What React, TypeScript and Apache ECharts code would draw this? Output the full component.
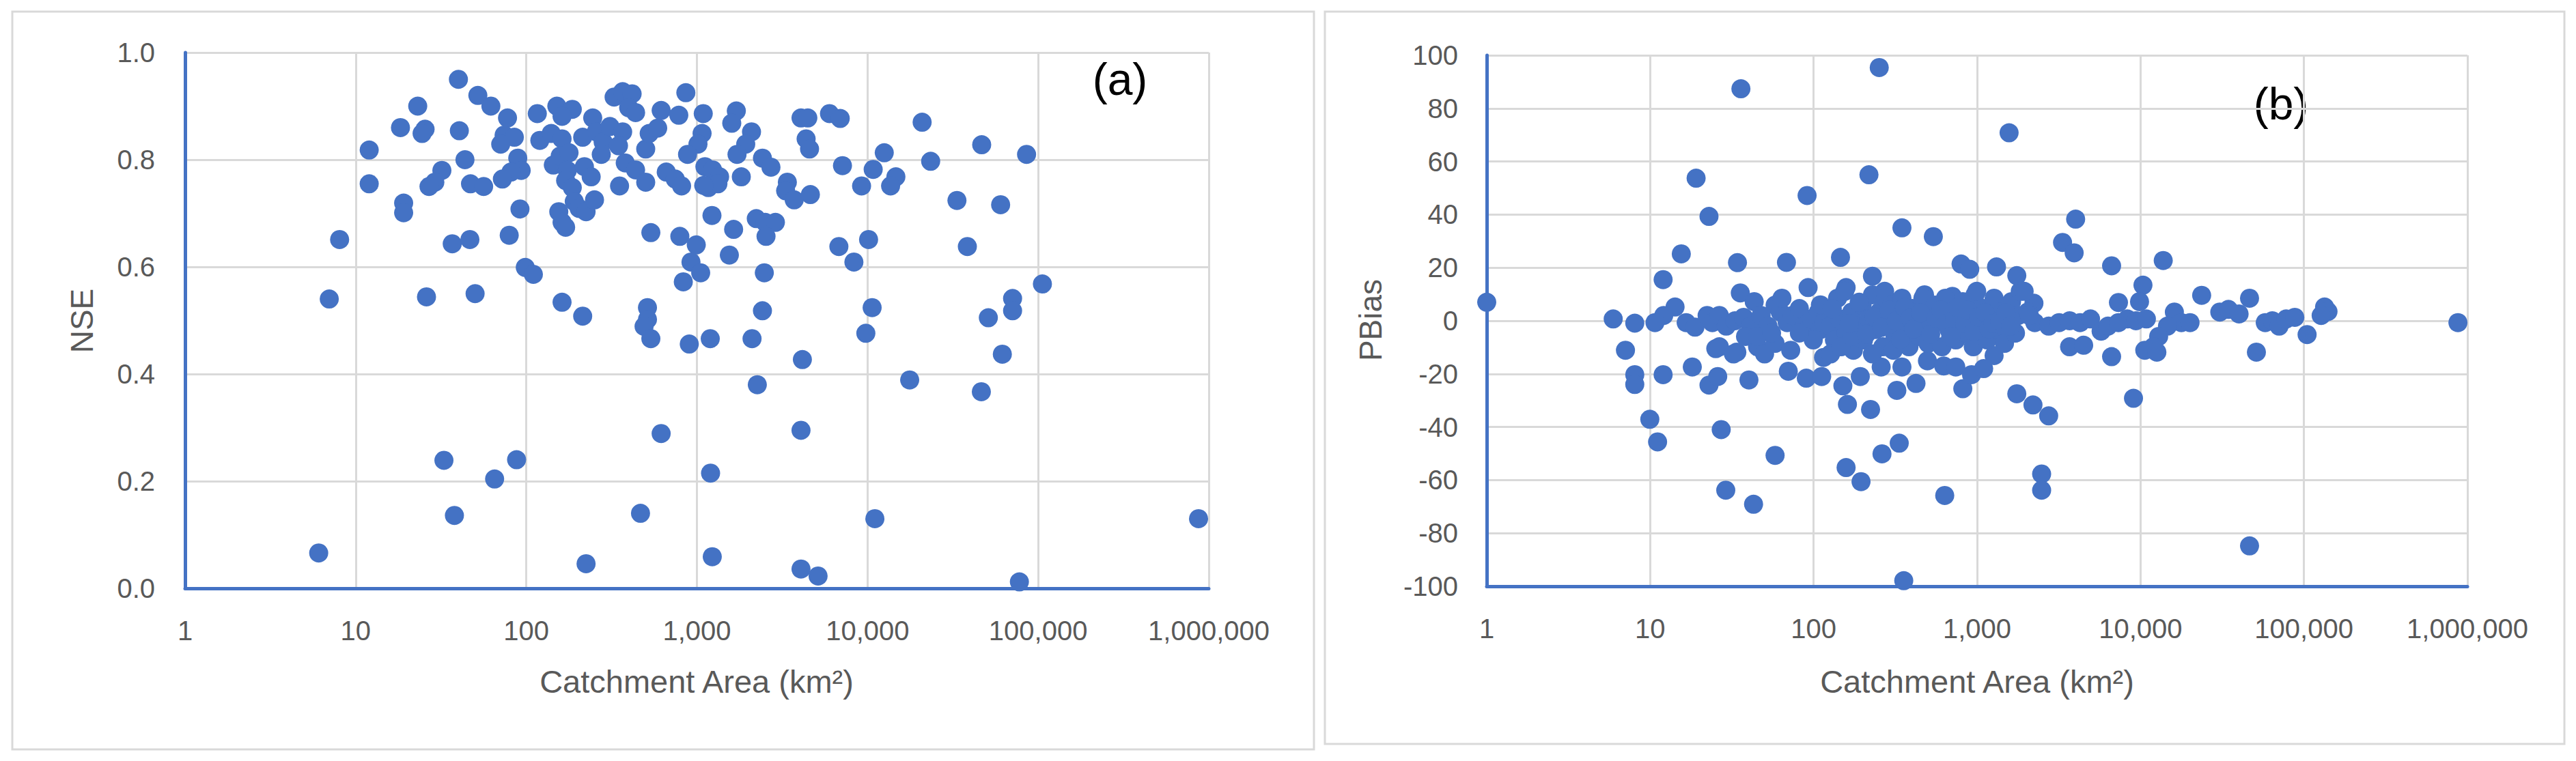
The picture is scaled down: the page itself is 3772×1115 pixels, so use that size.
import React, { useEffect, useRef } from "react";
import * as echarts from "echarts";

// ---------- Panel (a): NSE vs catchment area ----------
const areaA = [
  40, 52, 62, 23.1, 18.3, 25.5, 24.5, 40.5, 12.0, 77.6, 74.1, 85.1, 70.8, 43.7, 32.0, 29.1, 26.9, 12.0, 47.1, 56.2,
  89.1, 93.3, 81.3, 72.4, 19.1, 19.1, 91.8, 8.05, 36.8, 46.7, 79.4, 98.6, 110, 7.0, 26.0, 50.1, 162, 214, 116, 151,
  186, 162, 120, 140, 162, 144, 158, 178, 174, 170, 186, 191, 204, 224, 155, 162, 170, 219, 240, 251,
  214, 245, 257, 282, 275, 309, 327, 367, 417, 398, 437, 367, 347, 380, 352, 437, 501, 501, 525, 589,
  617, 783, 861, 1089, 1072, 1014, 881, 661, 746, 813, 1114, 1167, 1225, 537, 794, 991, 923, 1052, 832, 513,
  513, 490, 537, 902, 1197, 617, 32.9, 87.7, 65.2, 37.9, 467, 6.07, 224, 1202, 1230,
  1702, 1600, 2089, 1932, 1718, 1236, 1358, 1327, 1096, 1820, 2421, 2716, 1641, 2228, 2512, 2884, 2541, 1549, 2483, 3388,
  3311, 3715, 4624, 4074, 4467, 5984, 6918, 4365, 4571, 7129, 9226, 10790, 12530, 14660, 13650, 20890, 23440, 46670, 85510, 33420,
  60260, 38460, 6792, 8318, 10140, 105900, 70800, 70800, 51050, 61660, 10640, 9772, 17660, 46450, 2421, 2104, 4150, 2259, 4074, 11040,
  871000, 4074, 5129, 77620,
];
const nseA = [
  0.95, 0.92, 0.9, 0.9, 0.86, 0.857, 0.849, 0.854, 0.818, 0.878, 0.846, 0.842, 0.829, 0.8, 0.78, 0.758, 0.75, 0.755, 0.755, 0.75,
  0.803, 0.78, 0.777, 0.764, 0.719, 0.701, 0.708, 0.651, 0.643, 0.651, 0.659, 0.599, 0.586, 0.54, 0.544, 0.55, 0.534, 0.508, 0.886, 0.9,
  0.894, 0.881, 0.836, 0.849, 0.839, 0.79, 0.807, 0.813, 0.78, 0.761, 0.748, 0.722, 0.709, 0.703, 0.703, 0.683, 0.674, 0.787, 0.768, 0.725,
  0.842, 0.878, 0.852, 0.833, 0.81, 0.862, 0.917, 0.927, 0.923, 0.897, 0.888, 0.852, 0.826, 0.794, 0.751, 0.781, 0.758, 0.82, 0.849, 0.859,
  0.892, 0.883, 0.925, 0.886, 0.849, 0.829, 0.81, 0.777, 0.764, 0.751, 0.787, 0.748, 0.696, 0.664, 0.657, 0.641, 0.609, 0.589, 0.572, 0.524,
  0.502, 0.489, 0.466, 0.456, 0.466, 0.289, 0.239, 0.24, 0.204, 0.136, 0.14, 0.066, 0.046, 0.215, 0.059,
  0.891, 0.868, 0.852, 0.829, 0.81, 0.781, 0.768, 0.755, 0.752, 0.768, 0.803, 0.786, 0.67, 0.69, 0.683, 0.683, 0.657, 0.622, 0.589, 0.758,
  0.742, 0.725, 0.735, 0.878, 0.878, 0.886, 0.877, 0.839, 0.82, 0.789, 0.751, 0.782, 0.813, 0.768, 0.751, 0.87, 0.797, 0.828, 0.81, 0.724,
  0.716, 0.638, 0.638, 0.609, 0.651, 0.568, 0.541, 0.518, 0.505, 0.437, 0.524, 0.476, 0.389, 0.367, 0.518, 0.466, 0.427, 0.38, 0.295, 0.13,
  0.13, 0.036, 0.023, 0.012,
];

// ---------- Panel (b): PBias vs catchment area ----------
const areaB = [
  1.0, 35.9, 252, 1570, 19.1, 218, 91.2, 22.9, 347, 540, 15.5, 34.2, 68.2, 146, 798, 902, 1315, 12.0, 229, 35.6,
  92.5, 158, 272, 477, 706, 971, 1750, 14.2, 12.1, 10.7, 5.94, 8.05, 16.6, 18.8, 7.06, 8.05, 8.05, 12.0, 18.1, 22.9,
  25.9, 40.2, 25.2, 33.9, 9.95, 11.1, 27.2, 58.1, 29.0, 42.9, 158, 195, 262, 334, 634, 356, 70.0, 90.2, 112, 151,
  161, 223, 193, 259, 347, 323, 423, 497, 625, 741, 818, 925, 1097, 1271, 1750,
  22.3, 24.0, 26.5, 29.2, 33.0, 37.3, 41.2, 43.3, 47.7, 52.6, 58.1, 62.5, 64.0, 68.9, 74.1, 81.8, 88.1, 97.1, 107, 110,
  99.5, 115, 26.5, 32.3, 45.4, 50.1, 58.1, 72.4, 38.3, 45.4, 55.3, 81.8, 121, 127, 134, 140, 144, 155, 158, 171,
  175, 184, 198, 202, 218, 229, 240, 252, 265, 275, 285, 300, 315, 330, 347, 365, 383, 402, 423, 444,
  466, 489, 501, 115, 127, 147, 171, 229, 307, 526, 553, 581, 610, 640, 673, 706, 741, 778, 818, 859,
  902, 948, 995, 1045, 1097, 1153, 1211, 1271, 1336, 1403, 1472, 1545, 1625, 1706, 1791, 1836,
  4009, 3334, 3926, 6653, 13770, 2228, 7328, 10350, 9863, 23660, 46450, 30550, 34510, 40090, 133700, 140300, 127400, 57940, 63970, 70470,
  77800, 87900, 104500, 51170, 875000, 16110, 17780, 20090, 14620, 12910, 11990, 10620, 12590, 6653, 9057, 2198, 2742, 2483, 2483, 46450,
  2254, 2742, 3177, 3681, 4266, 4943, 5741, 6324, 7328, 8299, 9376, 10860, 3681, 4487, 2042, 1941, 1718, 2089,
  110, 130, 165, 190, 210, 235, 260, 290, 320, 340, 360, 390, 410, 450, 520, 560, 600, 650, 690, 730,
  760, 840, 880, 960, 1020, 1120, 1180, 1250, 1380, 1500, 1600,
];
const pbiasB = [
  7, 87.4, 95.4, 70.8, 53.7, 55.0, 47.2, 39.3, 35.0, 31.7, 25.2, 21.9, 22.0, 23.9, 21.4, 19.4, 20.3, 15.5, 16.8, 10.5,
  12.5, 12.5, 11.1, 9.8, 9.2, 9.8, 17.0, 5.2, 2.0, -0.7, 0.7, -0.9, -0.7, -2.4, -11.1, -20.3, -24.0, -20.3, -17.4, -24.2,
  -21.0, -22.3, -10.5, -11.8, -37.1, -45.6, -41.0, -50.7, -63.8, -69.1, -55.3, -60.6, -50.1, -46.1, -65.8, -97.9, -19.0, -21.6, -21.0, -24.5,
  -31.5, -33.4, -21.0, -17.4, -17.4, -26.2, -23.6, -15.1, -17.0, -17.4, -25.6, -20.3, -18.0, -13.1, -27.5,
  2.0, -0.7, 2.0, -2.0, 0, 1.3, -2.0, 7.2, 2.0, -2.0, 5.9, 3.3, 8.5, -0.7, 2.0, 4.6, -2.0, 0.7, 3.3, -3.3,
  -7.2, -0.7, -9.8, -12.5, -9.8, -12.5, -8.5, -11.1, -5.9, -5.9, -4.6, -4.6, 3.3, -2.0, -7.2, 8.5, 0.7, 11.1, -4.6, 3.3,
  -11.1, -2.0, 5.9, -7.2, 0.7, 9.8, -3.3, 3.3, -9.8, 8.5, -0.7, 5.9, -5.9, 2.0, 8.5, -3.3, -9.8, 4.6, -0.7, -5.9,
  8.5, 2.0, -8.5, -13.8, -12.5, -9.8, -5.9, -12.5, -11.1, -2.0, 5.9, 0.7, -9.8, 8.5, -3.3, 3.3, -7.2, -0.7, 7.2, -4.6,
  2.0, -9.8, 11.1, -2.0, 4.6, -7.2, 0.7, 8.5, -3.3, 3.3, -8.5, -0.7, 7.2, -4.6, 2.0, 11.1,
  38.3, 29.5, 25.6, 20.7, 22.7, 6.6, 6.9, 13.4, 7.2, 9.6, 8.5, 3.3, 4.3, 2.6, 5.2, 3.5, 2.0, -0.7, 0, -2.0,
  0.7, 1.3, -5.2, -11.8, -0.7, 3.3, -0.7, -0.7, -2.0, -5.9, -9.8, -11.1, -11.8, -13.5, -29.2, -31.7, -35.8, -57.7, -63.8, -84.8,
  -0.7, -2.0, -0.7, 0, -0.7, 0.7, -3.9, -2.0, -0.7, 0.7, 0, 0.7, -9.8, -9.2, 3.3, 11.1, -4.6, 2.0,
  6, 4.5, -1, 7, -5, 1.5, -2.5, 4, 0, -7, 5, 1, -3, 3, -5, 1, 4, -1, -6, 1,
  5, -1, 4, -4, 1.5, 3, -3, -1, 0, 3, -2,
];

const panelLabels = ["(a)", "(b)"];
const yTitles = ["NSE", "PBias"];
const xTitle = "Catchment Area (km\u00B2)";

const BLUE = "#4472C4";
const GRID = "#d9d9d9";
const TEXT = "#595959";
const FONT = "'Liberation Sans', Arial, sans-serif";

function pairs(xs: number[], ys: number[]) {
  const n = Math.min(xs.length, ys.length);
  const out: number[][] = [];
  for (let i = 0; i < n; i++) out.push([xs[i], ys[i]]);
  return out;
}

const fmtArea = (v: number) => Math.round(v).toLocaleString("en-US");

function xAxisCfg(gridIndex: number) {
  return {
    gridIndex,
    type: "log",
    logBase: 10,
    min: 1,
    max: 1000000,
    splitNumber: 6,
    axisLine: { show: true, onZero: false, lineStyle: { color: BLUE, width: 5 } },
    axisTick: { show: false },
    axisLabel: { color: TEXT, fontSize: 40, fontFamily: FONT, margin: 42, formatter: fmtArea },
    splitLine: { show: true, lineStyle: { color: GRID, width: 3 } },
    minorTick: { show: false },
    minorSplitLine: { show: false },
  };
}

export default function App() {
  const ref = useRef<HTMLDivElement>(null);
  useEffect(() => {
    if (!ref.current) return;
    const chart = echarts.init(ref.current, undefined, { renderer: "svg" });
    const option = {
      animation: false,
      backgroundColor: "#ffffff",
      grid: [
        { left: 271, top: 77, width: 1499, height: 785 },
        { left: 2177, top: 81, width: 1436, height: 778 },
      ],
      xAxis: [xAxisCfg(0), xAxisCfg(1)],
      yAxis: [
        {
          gridIndex: 0,
          type: "value",
          min: 0,
          max: 1,
          interval: 0.2,
          axisLine: { show: true, onZero: false, lineStyle: { color: BLUE, width: 5 } },
          axisTick: { show: false },
          axisLabel: { color: TEXT, fontSize: 40, fontFamily: FONT, margin: 44, formatter: (v: number) => v.toFixed(1) },
          splitLine: { show: true, lineStyle: { color: GRID, width: 3 } },
        },
        {
          gridIndex: 1,
          type: "value",
          min: -100,
          max: 100,
          interval: 20,
          axisLine: { show: true, onZero: false, lineStyle: { color: BLUE, width: 5 } },
          axisTick: { show: false },
          axisLabel: { color: TEXT, fontSize: 40, fontFamily: FONT, margin: 42, formatter: (v: number) => String(Math.round(v)) },
          splitLine: { show: true, lineStyle: { color: GRID, width: 3 } },
        },
      ],
      series: [
        {
          type: "scatter",
          xAxisIndex: 0,
          yAxisIndex: 0,
          data: pairs(areaA, nseA),
          symbol: "circle",
          symbolSize: 28,
          clip: false,
          itemStyle: { color: BLUE, opacity: 1 },
        },
        {
          type: "scatter",
          xAxisIndex: 1,
          yAxisIndex: 1,
          data: pairs(areaB, pbiasB),
          symbol: "circle",
          symbolSize: 28,
          clip: false,
          itemStyle: { color: BLUE, opacity: 1 },
        },
      ],
      graphic: [
        { type: "rect", z: -10, shape: { x: 18, y: 17, width: 1906, height: 1081 }, style: { fill: "none", stroke: GRID, lineWidth: 3 } },
        { type: "rect", z: -10, shape: { x: 1940, y: 17, width: 1815, height: 1073 }, style: { fill: "none", stroke: GRID, lineWidth: 3 } },
        { type: "text", x: 1020, y: 998, style: { text: xTitle, fill: TEXT, fontSize: 47, fontFamily: FONT, align: "center", verticalAlign: "middle" } },
        { type: "text", x: 2895, y: 998, style: { text: xTitle, fill: TEXT, fontSize: 47, fontFamily: FONT, align: "center", verticalAlign: "middle" } },
        { type: "text", x: 120, y: 470, rotation: Math.PI / 2, style: { text: yTitles[0], fill: TEXT, fontSize: 46, fontFamily: FONT, align: "center", verticalAlign: "middle" } },
        { type: "text", x: 2007, y: 469, rotation: Math.PI / 2, style: { text: yTitles[1], fill: TEXT, fontSize: 46, fontFamily: FONT, align: "center", verticalAlign: "middle" } },
        { type: "text", x: 1640, y: 116, style: { text: panelLabels[0], fill: "#000", fontSize: 66, fontFamily: FONT, align: "center", verticalAlign: "middle" } },
        { type: "text", x: 3340, y: 152, style: { text: panelLabels[1], fill: "#000", fontSize: 66, fontFamily: FONT, align: "center", verticalAlign: "middle" } },
      ],
    };
    chart.setOption(option as any);
    return () => chart.dispose();
  }, []);
  return (
    <div
      ref={ref}
      style={{ position: "fixed", left: 0, top: 0, width: 3772, height: 1115, background: "#fff" }}
    />
  );
}
